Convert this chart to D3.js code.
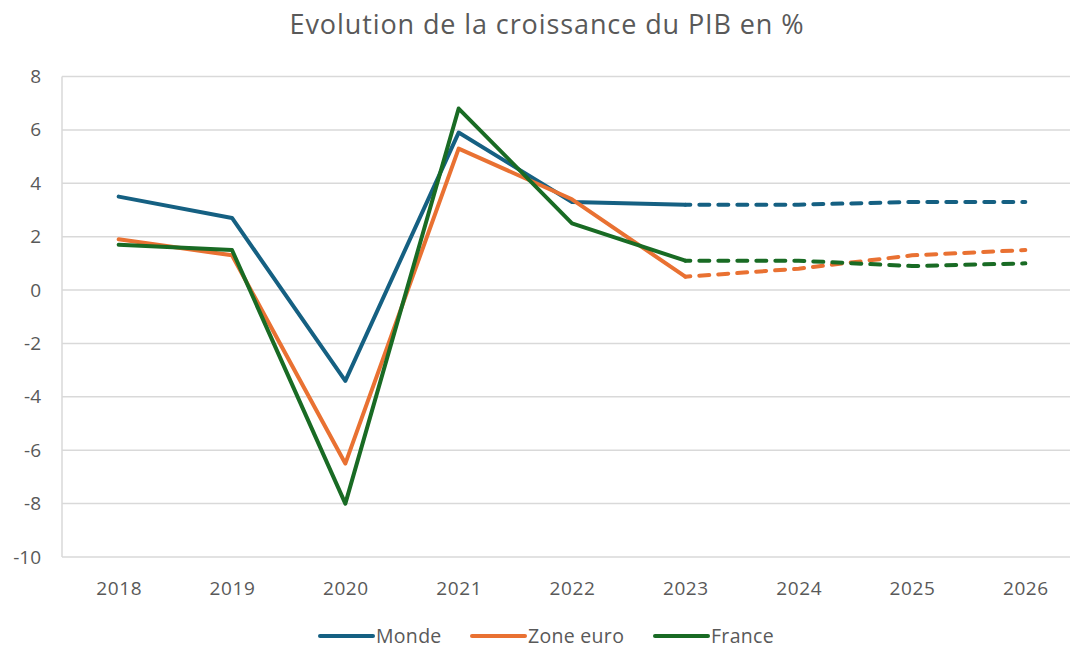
<!DOCTYPE html>
<html><head><meta charset="utf-8">
<script src="https://cdn.jsdelivr.net/npm/d3@7"></script>
<style>body{margin:0;background:#fff}svg{display:block}text{font-family:"Open Sans",sans-serif;fill:#595959}</style>
</head><body><svg id="c" width="1070" height="648"></svg>
<script>
const years = ["2018","2019","2020","2021","2022","2023","2024","2025","2026"];
const monde = [3.5, 2.7, -3.4, 5.9, 3.3, 3.2, 3.2, 3.3, 3.3];
const zoneEuro = [1.9, 1.3, -6.5, 5.3, 3.4, 0.5, 0.8, 1.3, 1.5];
const france = [1.7, 1.5, -8.0, 6.8, 2.5, 1.1, 1.1, 0.9, 1.0];
const yTicks = [-10, -8, -6, -4, -2, 0, 2, 4, 6, 8];
const seriesNames = ["Monde", "Zone euro", "France"];
const colors = ["#156082", "#E97132", "#196B24"];
const lastActual = "2023";
const title = "Evolution de la croissance du PIB en %";

const svg = d3.select("#c");
const x = d3.scalePoint().domain(years).range([62, 1082]).padding(0.5);
const y = d3.scaleLinear().domain([-10, 8]).range([557, 76.5]);

svg.append("text").attr("x", 547).attr("y", 34).attr("text-anchor", "middle")
  .style("font-size", "27px").style("letter-spacing", "0.9px").text(title);

// grid
svg.append("g").selectAll("line").data(yTicks).join("line")
  .attr("x1", 62).attr("x2", 1082).attr("y1", d => y(d)).attr("y2", d => y(d))
  .attr("stroke", "#d9d9d9").attr("stroke-width", 1.5);
svg.append("line").attr("x1", 62).attr("x2", 62).attr("y1", y(8)).attr("y2", y(-10))
  .attr("stroke", "#d9d9d9").attr("stroke-width", 1.5);

// y axis labels
const ya = svg.append("g").attr("transform", "translate(41,0)")
  .call(d3.axisLeft(y).tickValues(yTicks).tickSize(0).tickPadding(0).tickFormat(d => String(d)));
ya.select(".domain").remove();
ya.selectAll("text").style("font-size", "19px").attr("fill", "#595959").style("font-family", '"Open Sans",sans-serif');

// x axis labels
const xa = svg.append("g").attr("transform", "translate(0,581)")
  .call(d3.axisBottom(x).tickSize(0).tickPadding(0));
xa.select(".domain").remove();
xa.selectAll("text").style("font-size", "19px").style("letter-spacing", "0.6px").attr("fill", "#595959").attr("dy", "0.71em").style("font-family", '"Open Sans",sans-serif');

const data = [monde, zoneEuro, france];
const line = d3.line().x((d, i) => x(years[i])).y(d => y(d)).defined(d => d != null);
const cut = years.indexOf(lastActual);
data.forEach((vals, k) => {
  const solid = vals.map((v, i) => i <= cut ? v : null);
  const dashed = vals.map((v, i) => i >= cut ? v : null);
  svg.append("path").attr("d", line(solid)).attr("fill", "none")
    .attr("stroke", colors[k]).attr("stroke-width", 4).attr("stroke-linejoin", "round").attr("stroke-linecap", "round");
  svg.append("path").attr("d", line(dashed)).attr("fill", "none")
    .attr("stroke", colors[k]).attr("stroke-width", 4).attr("stroke-dasharray", "10,9").attr("stroke-linecap", "round")
    .attr("stroke-dashoffset", -14);
});

// legend
const legX = [320, 472, 655];
seriesNames.forEach((n, k) => {
  const g = svg.append("g").attr("transform", `translate(${legX[k]},636)`);
  g.append("line").attr("x1", 0).attr("x2", 53).attr("stroke", colors[k]).attr("stroke-width", 4).attr("stroke-linecap", "round");
  g.append("text").attr("x", 56).attr("dy", "0.35em").style("font-size", "19.5px").style("letter-spacing", "0.3px").text(n);
});
</script></body></html>
